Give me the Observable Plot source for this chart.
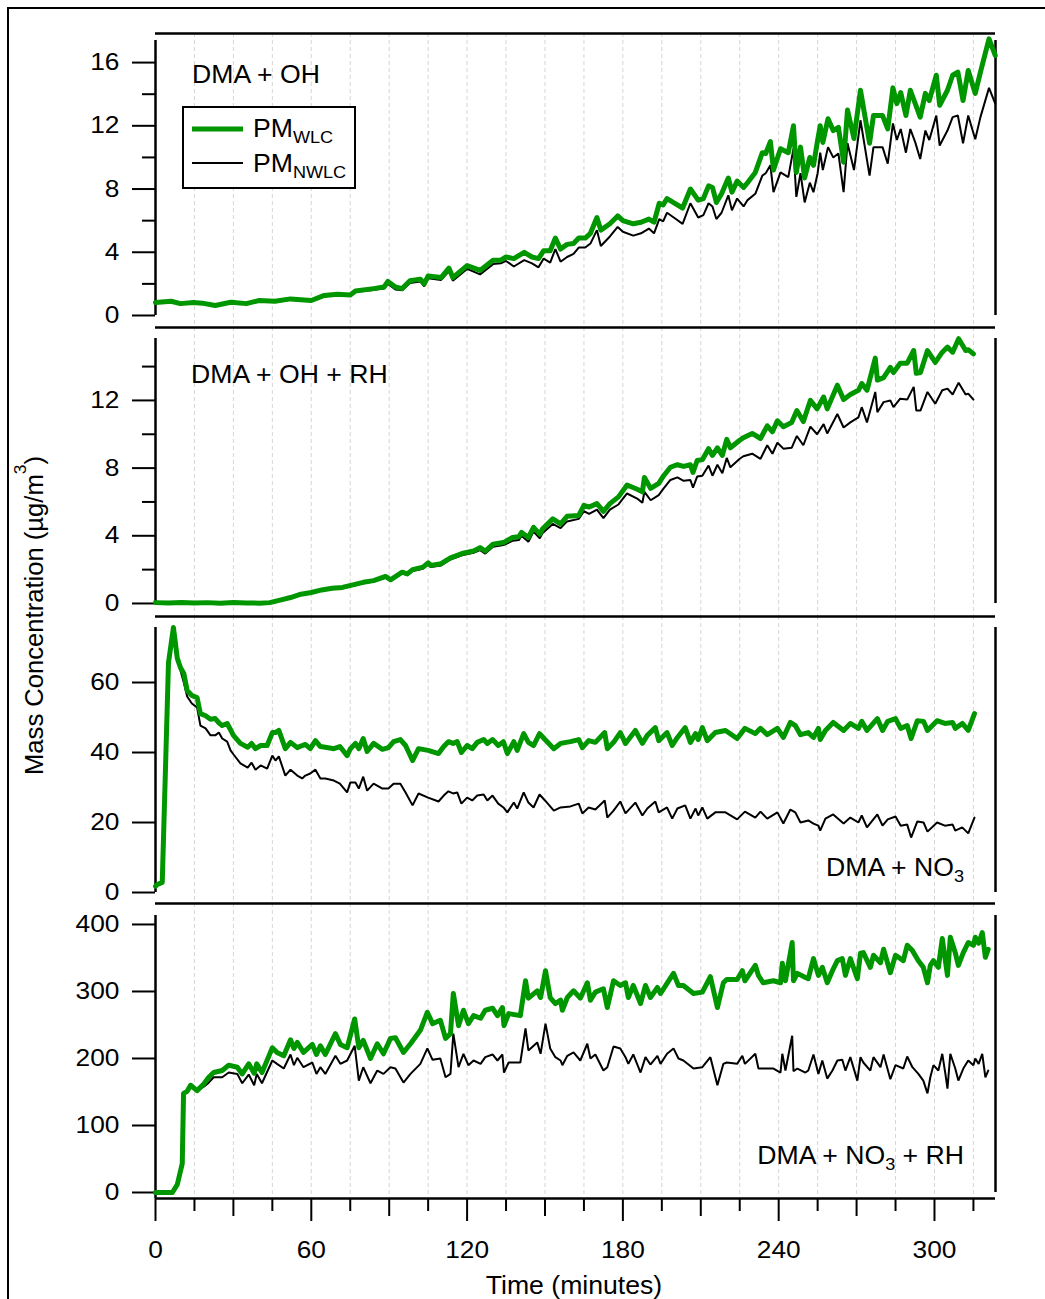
<!DOCTYPE html>
<html><head><meta charset="utf-8">
<script src="https://cdn.jsdelivr.net/npm/d3@7"></script>
<script src="https://cdn.jsdelivr.net/npm/@observablehq/plot@0.6"></script>
<style>
body{margin:0;background:#fff;}
#root{position:relative;width:1045px;height:1299px;overflow:hidden;background:#fff;font-family:"Liberation Sans",Arial,sans-serif;}
#root svg.panel{position:absolute;left:0;}
#frame{position:absolute;left:7px;top:7px;width:2000px;height:2000px;border:2px solid #000;}
#overlay{position:absolute;left:0;top:0;}
</style></head><body><div id="root"><div id="frame"></div></div>
<script>
// ---------------- DATA ----------------
// Panel 1: DMA + OH
const p1Time = [0, 6, 9.6, 14.6, 18, 23, 29, 35, 40, 46,
  52, 60, 65, 70, 75, 77, 84, 88, 89.5, 92.4,
  95, 98, 102, 103.5, 105, 110, 113, 114.5, 120, 125,
  130, 133, 135, 138, 142, 145, 147.5, 149.5, 152, 154,
  156, 158.5, 161, 163, 165.5, 167.5, 170, 171.5, 175, 178,
  180, 184, 187, 190, 192, 194, 195.5, 197, 200, 203,
  206, 209, 211, 213, 214.5, 216, 218, 220.6, 222, 224,
  226.5, 228, 231, 233.7, 235, 236.8, 238, 240.7, 243.7, 245.7,
  246.8, 248.4, 250, 252, 253.4, 255, 256, 257, 259, 261,
  263, 265, 266.5, 269, 271.5, 275, 276.5, 280, 282, 284,
  285.5, 287, 289, 290.7, 292.6, 294.5, 296.5, 298, 300.7, 302,
  305, 307, 309, 311, 313, 315.7, 317.7, 321, 323.4];
const p1WLC = [0.82, 0.9, 0.75, 0.82, 0.78, 0.63, 0.84, 0.75, 0.95, 0.9,
  1.05, 0.95, 1.27, 1.35, 1.3, 1.55, 1.7, 1.8, 2.15, 1.8,
  1.7, 2.2, 2.3, 2.0, 2.5, 2.4, 3.0, 2.4, 3.16, 2.85,
  3.5, 3.5, 3.7, 3.6, 4.0, 3.7, 3.6, 4.1, 4.1, 4.9,
  4.2, 4.5, 4.55, 4.9, 4.9, 5.2, 6.2, 5.4, 5.8, 6.3,
  6.0, 5.8, 5.9, 6.1, 5.9, 7.1, 7.0, 7.4, 7.1, 6.8,
  8.0, 7.3, 7.4, 8.2, 8.1, 7.15, 7.7, 8.7, 7.8, 8.5,
  8.1, 8.4, 9.05, 10.3, 10.25, 11.0, 9.2, 10.55, 10.3, 12.0,
  9.05, 10.65, 8.7, 10.0, 9.5, 11.1, 12.0, 10.95, 12.45, 11.7,
  11.9, 9.7, 13.0, 11.2, 14.25, 10.9, 12.65, 12.65, 11.8, 14.4,
  13.4, 14.1, 12.65, 14.25, 13.4, 12.55, 14.05, 13.6, 15.2, 13.3,
  14.25, 15.2, 15.4, 13.6, 15.5, 14.05, 15.4, 17.5, 16.45];
const p1NWLC = [0.8, 0.86, 0.72, 0.8, 0.75, 0.6, 0.8, 0.72, 0.9, 0.85,
  1.0, 0.92, 1.2, 1.3, 1.25, 1.5, 1.62, 1.7, 2.0, 1.65,
  1.6, 2.05, 2.15, 1.85, 2.35, 2.25, 2.8, 2.2, 2.95, 2.6,
  3.25, 3.3, 3.45, 3.1, 3.5, 3.3, 3.05, 3.6, 3.35, 4.2,
  3.4, 3.7, 3.9, 4.3, 4.3, 4.55, 5.4, 4.4, 5.0, 5.6,
  5.3, 5.05, 5.2, 5.5, 5.2, 6.1, 5.95, 6.5, 6.15, 5.8,
  7.1, 6.2, 6.35, 7.1, 6.9, 6.1, 6.5, 7.6, 6.65, 7.4,
  6.9, 7.3, 7.7, 8.85, 9.0, 9.5, 7.8, 9.05, 8.75, 10.55,
  7.5, 9.0, 7.15, 8.4, 7.8, 9.0, 10.3, 9.2, 10.65, 10.0,
  10.25, 7.8, 10.9, 9.2, 12.35, 8.85, 10.65, 10.65, 9.6, 12.15,
  11.1, 11.8, 10.3, 11.8, 10.95, 9.9, 11.7, 11.1, 12.65, 10.75,
  11.7, 12.55, 12.65, 10.9, 12.65, 11.15, 12.55, 14.4, 13.4];

// Panel 2: DMA + OH + RH
const p2Time = [0, 5, 10, 15, 20, 25, 30, 35, 40, 44,
  48, 52, 56, 60, 64, 68, 72, 76, 80, 84,
  88.6, 90.5, 95, 97, 99, 103, 105, 106, 110, 113.6,
  118, 122.5, 125, 127, 130, 134, 137.5, 140, 141, 143.6,
  145.6, 148, 149, 153, 156, 158.5, 163, 165, 167, 170,
  172.5, 175, 178.3, 181.6, 185.5, 187.5, 188.3, 190.7, 193.8, 195.7,
  198.3, 201, 203.4, 206, 207, 208.6, 210.6, 213, 214.5, 216.4,
  218.3, 220, 221.4, 225, 226.4, 229.8, 233, 235.6, 237.6, 239.5,
  241.8, 245, 247, 249.5, 252.2, 254.8, 257.3, 258.7, 262.6, 265,
  267.6, 270.7, 272, 274, 277.2, 278, 280.4, 283, 284.2, 286.8,
  289.5, 292, 293, 294.6, 297.3, 300.3, 303, 305, 307, 309.3,
  312, 313, 315];
const p2WLC = [0.05, 0.03, 0.06, 0.03, 0.05, 0.02, 0.06, 0.03, 0.02, 0.05,
  0.2, 0.35, 0.55, 0.65, 0.8, 0.9, 0.95, 1.1, 1.25, 1.35,
  1.6, 1.4, 1.85, 1.75, 2.0, 2.15, 2.4, 2.25, 2.35, 2.7,
  2.95, 3.1, 3.3, 3.1, 3.5, 3.6, 3.9, 3.95, 4.2, 3.9,
  4.5, 4.1, 4.4, 5.0, 4.7, 5.15, 5.2, 5.8, 5.7, 5.9,
  5.45, 5.9, 6.3, 7.0, 6.75, 6.6, 7.45, 6.8, 7.1, 7.55,
  8.05, 8.2, 8.1, 8.2, 7.75, 8.45, 8.5, 9.15, 8.75, 9.2,
  8.75, 9.7, 9.2, 9.65, 9.8, 10.05, 9.75, 10.5, 10.15, 10.8,
  10.45, 10.7, 11.4, 10.75, 12.0, 11.5, 12.2, 11.5, 12.9, 12.05,
  12.35, 12.6, 13.0, 12.6, 14.5, 13.2, 13.35, 13.95, 13.65, 14.2,
  14.2, 14.95, 13.6, 13.65, 14.95, 14.25, 14.85, 15.15, 14.85, 15.65,
  14.95, 15.0, 14.75];
const p2NWLC = [0.05, 0.03, 0.06, 0.03, 0.05, 0.02, 0.06, 0.03, 0.02, 0.05,
  0.2, 0.33, 0.52, 0.62, 0.76, 0.86, 0.9, 1.05, 1.2, 1.3,
  1.52, 1.33, 1.78, 1.68, 1.92, 2.05, 2.3, 2.15, 2.25, 2.6,
  2.85, 3.0, 3.15, 2.95, 3.35, 3.45, 3.7, 3.75, 4.0, 3.65,
  4.25, 3.85, 4.15, 4.7, 4.45, 4.85, 5.0, 5.45, 5.3, 5.55,
  5.05, 5.55, 5.85, 6.5, 6.2, 5.95, 6.6, 6.1, 6.4, 6.8,
  7.3, 7.45, 7.25, 7.3, 6.85, 7.5, 7.55, 8.15, 7.55, 8.2,
  7.7, 8.6, 8.05, 8.55, 8.7, 8.85, 8.55, 9.35, 8.85, 9.5,
  9.15, 9.2, 9.9, 9.35, 10.45, 10.0, 10.6, 10.05, 11.2, 10.4,
  10.7, 11.0, 11.6, 10.7, 12.5, 11.3, 11.9, 12.0, 11.6, 12.1,
  12.05, 12.8, 11.4, 11.4, 12.5, 11.8, 12.6, 12.7, 12.35, 13.05,
  12.35, 12.4, 12.05];

// Panel 3: DMA + NO3
const p3Time = [0, 0.7, 2.6, 5, 6.9, 8.4, 9.6, 10.9, 12.2, 14,
  16, 17.3, 19.3, 21.2, 23, 24.4, 25.7, 27.6, 28.9, 30,
  32.7, 35.5, 37, 38.5, 40.5, 43, 45, 46.2, 47.5, 50,
  52, 54.6, 56.5, 57.7, 59.6, 61.6, 63.5, 65.4, 68.7, 71,
  73.8, 75, 77, 78.3, 80, 81.5, 84, 87.4, 89.7, 91.7,
  94.3, 96.3, 99, 101.3, 105, 109, 111, 112.8, 114.6, 116.2,
  117.8, 120, 122, 123.9, 126.4, 127.8, 129.8, 132, 134, 135.5,
  138, 139.3, 141.8, 143.6, 145.6, 147.9, 150, 153.4, 156, 159.8,
  163, 164.4, 166.8, 169.4, 173, 174, 176.4, 179, 181, 184.8,
  187.5, 189.4, 192.5, 193.8, 197, 199, 201, 204, 206, 208,
  209, 210.6, 212.5, 215.6, 219.5, 224, 227, 231, 233, 235.6,
  239.5, 241.8, 244.5, 246.4, 248.4, 251.4, 253.4, 255.3, 256, 258,
  261, 265, 267.6, 270.7, 272, 274, 278, 280, 282, 285,
  287, 289.5, 291, 293.4, 295.8, 297.3, 301, 304, 307, 308,
  310.7, 313, 315.4];
const p3WLC = [1.8, 2.3, 2.9, 65.7, 75.7, 66.9, 64.3, 62.6, 57.7, 56.3,
  55.7, 51.1, 50.5, 49.5, 49.7, 48.5, 47.7, 48.3, 46.5, 44.9,
  42.6, 41.5, 42.6, 41.1, 42, 42, 45.7, 45.7, 46.3, 41.1,
  42.9, 41.4, 42, 42.3, 41.1, 43.4, 41.7, 41.5, 41.1, 41.7,
  39.1, 41, 42.6, 41.1, 44, 40.3, 42.6, 40.9, 41.4, 43.1,
  43.7, 42, 37.7, 41.1, 40.6, 39.7, 41.7, 43.1, 42.6, 43.1,
  40, 42, 41.1, 42.9, 43.7, 42.6, 43.7, 42, 43.1, 39.7,
  43.1, 40.6, 45.4, 42.9, 42, 45.4, 43.7, 41.1, 42.6, 43.1,
  43.7, 41.4, 43.4, 42.9, 45.7, 41.1, 42.9, 45.7, 42.6, 46.3,
  42.6, 44.9, 47.1, 43.4, 45.7, 42, 44.3, 47.1, 42.9, 45.4,
  43.7, 47.1, 43.4, 45.7, 46.3, 44, 46.9, 45.4, 46.9, 45.1,
  46.9, 44.3, 48.6, 47.7, 45.1, 45.7, 44.3, 46.9, 43.7, 46.3,
  48.6, 46.3, 48.3, 46.9, 48.9, 46.3, 49.7, 46.3, 48.9, 49.7,
  46.9, 47.7, 44, 49.1, 48.9, 46.3, 49.1, 48.3, 48.6, 46.9,
  48.3, 46.3, 51.1];
const p3NWLC = [1.8, 2.3, 2.9, 65.7, 75.7, 66.9, 63.5, 60, 56, 54,
  52.9, 47.7, 46.9, 44.9, 44.9, 45.7, 44, 43.1, 40.6, 39.5,
  36.9, 35.7, 37.1, 35.1, 36.3, 35.4, 39.1, 37.7, 38.9, 33.4,
  35.1, 33.4, 32.6, 33.4, 34, 35.1, 32.6, 32.6, 32, 31.1,
  28.6, 31.4, 31.4, 29.7, 33.1, 29.1, 31.1, 29.7, 29.7, 31.1,
  31.1, 28.6, 24.9, 28.3, 27.1, 26, 27.7, 28.9, 28.3, 28.6,
  25.4, 27.1, 26.3, 27.7, 28, 26.3, 27.7, 25.4, 24.3, 22.9,
  25.7, 24, 28.6, 25.7, 24.3, 28, 26.3, 23.4, 24.3, 24.6,
  25.4, 22.6, 24.3, 23.7, 26.3, 21.4, 23.4, 26, 22.6, 25.7,
  22, 24, 26, 22.9, 24.3, 21.1, 24, 24.9, 21.1, 24,
  22, 24.3, 21.1, 22.9, 22.9, 20.9, 23.1, 21.4, 23.1, 21.1,
  22.9, 19.7, 23.7, 22.9, 20, 20.6, 19.7, 19.1, 17.7, 21.1,
  22.3, 19.7, 21.4, 20, 22, 18.6, 22.3, 19.1, 20.9, 21.7,
  19.1, 19.4, 15.7, 20.3, 20, 17.4, 20, 19.1, 19.4, 17.7,
  18.6, 16.9, 21.4];

// Panel 4: DMA + NO3 + RH
const p4Time = [0, 6.5, 8.4, 10.3, 10.8, 12.2, 13.5, 16, 18.6, 20.5,
  22.4, 25.7, 28.2, 31.5, 33.4, 35.9, 38, 39, 41, 42.4,
  45, 46.8, 49.4, 52, 53.3, 54.6, 57, 60.4, 62, 63.5,
  65.4, 69.3, 71.2, 73.8, 76.7, 78.3, 80, 82.8, 85.4, 87.8,
  90.5, 92.4, 95.5, 98.2, 102, 104.7, 106.7, 109.7, 111.7, 113.6,
  114.7, 116.7, 118.6, 120.5, 122.5, 125.2, 127, 129.8, 131.7, 133.6,
  134.2, 136, 140.5, 142.5, 143.6, 147, 148.3, 150.2, 152, 154,
  156, 156.7, 158.6, 161, 163.6, 166.3, 167.5, 169.4, 172.5, 174,
  176.4, 179, 181, 182.1, 184, 186.8, 188.7, 190.6, 193.3, 194.5,
  197, 199.5, 201.4, 203.3, 207.2, 210.6, 213.7, 216.4, 218.7, 220,
  224, 226, 227, 231, 232.2, 234, 238, 240.7, 241.4, 242.6,
  245.2, 245.7, 247.2, 250.3, 251.4, 253.4, 255.3, 256.8, 258.7, 260.7,
  262.6, 264.5, 265.7, 267.6, 270.3, 271.5, 272.6, 275.3, 276.5, 279.2,
  280.4, 283, 285, 288, 289.5, 291.5, 293.8, 295.7, 297.3, 298.4,
  299.6, 301.5, 303, 304.2, 305, 306.1, 308, 309.2, 311.1, 313,
  315, 315.7, 317, 318.4, 319.6, 320.7];
const p4WLC = [0, 0, 12, 43, 148, 151, 160, 152, 162, 172,
  179, 182, 190, 187, 177, 192, 178, 192, 179, 192,
  216, 209, 204, 228, 215, 224, 209, 221, 206, 219,
  206, 237, 221, 216, 259, 216, 227, 200, 222, 207,
  230, 231, 209, 222, 242, 269, 252, 257, 230, 237,
  297, 249, 272, 252, 264, 260, 272, 275, 264, 276,
  249, 267, 264, 316, 290, 301, 291, 331, 291, 282,
  287, 272, 291, 301, 290, 313, 287, 299, 304, 276,
  316, 309, 313, 291, 309, 282, 309, 291, 306, 297,
  312, 327, 309, 309, 297, 299, 322, 276, 313, 318,
  318, 331, 316, 339, 324, 313, 316, 313, 342, 316,
  373, 316, 327, 321, 319, 349, 324, 336, 313, 331,
  346, 349, 324, 349, 319, 357, 358, 336, 354, 343,
  363, 328, 354, 346, 369, 361, 346, 336, 313, 339,
  346, 336, 379, 346, 324, 381, 358, 339, 358, 373,
  369, 381, 372, 388, 351, 363];
const p4NWLC = [0, 0, 12, 43, 148, 151, 160, 152, 158, 164,
  172, 172, 179, 177, 163, 176, 160, 177, 163, 175,
  197, 192, 185, 206, 190, 201, 187, 194, 177, 187,
  177, 204, 192, 197, 219, 167, 187, 163, 182, 177,
  187, 185, 164, 177, 192, 215, 198, 200, 172, 177,
  237, 187, 207, 190, 197, 192, 202, 206, 197, 206,
  179, 194, 194, 245, 212, 224, 207, 252, 215, 202,
  197, 190, 204, 209, 197, 222, 200, 206, 182, 187,
  218, 215, 202, 192, 206, 179, 202, 191, 204, 192,
  207, 215, 200, 197, 185, 187, 202, 160, 192, 194,
  192, 204, 192, 207, 185, 185, 185, 179, 207, 182,
  234, 181, 185, 179, 182, 206, 177, 197, 170, 182,
  197, 198, 182, 202, 167, 202, 194, 182, 202, 187,
  206, 169, 190, 185, 203, 187, 177, 167, 148, 172,
  190, 182, 207, 177, 155, 207, 185, 167, 185, 197,
  190, 200, 192, 207, 172, 182];

const panelNames = ["DMA + OH", "DMA + OH + RH", "DMA + NO3", "DMA + NO3 + RH"];
const seriesNames = ["PM WLC", "PM NWLC"];
const xTicksMajor = [0, 60, 120, 180, 240, 300];
const xTicksMid = [30, 90, 150, 210, 270];
const xTicksMinor = [15, 45, 75, 105, 135, 165, 195, 225, 255, 285, 315];
const xGrid = [15, 30, 45, 60, 75, 90, 105, 120, 135, 150, 165, 180, 195, 210, 225, 240, 255, 270, 285, 300, 315];
const p1Ticks = [0, 4, 8, 12, 16], p1Minor = [2, 6, 10, 14];
const p2Ticks = [0, 4, 8, 12], p2Minor = [2, 6, 10, 14];
const p3Ticks = [0, 20, 40, 60];
const p4Ticks = [0, 100, 200, 300, 400];

// ---------------- DRAW ----------------
const W = 1045;
const GREEN = "#009600";
const FONT = '"Liberation Sans", Arial, sans-serif';
const xDomain = [0, 323.5];
const TICK_STRETCH = 1.12, LABEL_STRETCH = 1.065;

function rows(T, V) {
  if (T.length !== V.length) throw new Error("length mismatch " + T.length + " vs " + V.length);
  return T.map((t, i) => ({t, v: V[i]}));
}

// stretch a text horizontally about its own anchor point (Plot positions text via transform)
function stretchText(el, s) {
  const tr = el.getAttribute("transform") || "";
  el.setAttribute("transform", (tr + ` scale(${s},1)`).trim());
}

const panels = [
  {T: p1Time, g: p1WLC, k: p1NWLC, areaTop: 33, areaBottom: 327, domain: [-0.76, 17.84], axisTop: 17.39, ticks: p1Ticks, minor: p1Minor},
  {T: p2Time, g: p2WLC, k: p2NWLC, areaTop: 327, areaBottom: 616, domain: [-0.77, 16.31], axisTop: 15.66, ticks: p2Ticks, minor: p2Minor},
  {T: p3Time, g: p3WLC, k: p3NWLC, areaTop: 616, areaBottom: 903, domain: [-3.14, 78.86], axisTop: 75.7, ticks: p3Ticks, minor: []},
  {T: p4Time, g: p4WLC, k: p4NWLC, areaTop: 903, areaBottom: 1198, domain: [-8.96, 431.3], axisTop: 413.4, ticks: p4Ticks, minor: [], last: true}
];

const root = document.getElementById("root");

panels.forEach((p) => {
  const mt = 4;
  const mb = p.last ? (1299 - p.areaBottom) : 2;
  const H = (p.areaBottom - p.areaTop) + mt + mb;
  const marks = [
    Plot.gridX(xGrid, {stroke: "#d6d6d6", strokeOpacity: 1, strokeWidth: 1, strokeDasharray: "4,3"}),
    Plot.ruleY([p.domain[1]], {stroke: "black", strokeWidth: 2.5}),
    Plot.ruleX([0], {y1: p.last ? p.domain[0] : 0, y2: p.axisTop, stroke: "black", strokeWidth: 2.5}),
    Plot.ruleX([xDomain[1]], {y1: 0, y2: p.axisTop, stroke: "black", strokeWidth: 2.5}),
    Plot.axisY({ticks: p.ticks, tickSize: 23, tickPadding: 13, strokeWidth: 2, label: null, anchor: "left"}),
  ];
  if (p.minor.length) marks.push(Plot.axisY({ticks: p.minor, tickSize: 13, tickFormat: () => "", strokeWidth: 2, label: null, anchor: "left"}));
  if (p.last) {
    marks.push(
      Plot.ruleY([p.domain[0]], {stroke: "black", strokeWidth: 2.5}),
      Plot.axisX({ticks: xTicksMajor, tickSize: 23, tickPadding: 20, strokeWidth: 2, label: null, anchor: "bottom"}),
      Plot.axisX({ticks: xTicksMid, tickSize: 18, tickFormat: () => "", strokeWidth: 2, label: null, anchor: "bottom"}),
      Plot.axisX({ticks: xTicksMinor, tickSize: 13, tickFormat: () => "", strokeWidth: 2, label: null, anchor: "bottom"})
    );
  }
  marks.push(
    Plot.line(rows(p.T, p.k), {x: "t", y: "v", stroke: "black", strokeWidth: 2, strokeLinejoin: "miter"}),
    Plot.line(rows(p.T, p.g), {x: "t", y: "v", stroke: GREEN, strokeWidth: 5, strokeLinejoin: "round"})
  );
  const svg = Plot.plot({
    width: W, height: H,
    marginLeft: 155, marginRight: W - 995, marginTop: mt, marginBottom: mb,
    x: {domain: xDomain, axis: null},
    y: {domain: p.domain, axis: null},
    style: {background: "transparent", fontFamily: FONT, fontSize: "23.5px", color: "black", overflow: "visible"},
    marks
  });
  svg.classList.add("panel");
  svg.style.top = (p.areaTop - mt) + "px";
  root.appendChild(svg);
  svg.querySelectorAll("text").forEach((t) => { if ((t.textContent || "").trim()) stretchText(t, TICK_STRETCH); });
});

// ---------------- TEXT OVERLAY ----------------
const ov = d3.select(root).append("svg").attr("id", "overlay")
  .attr("width", W).attr("height", 1299)
  .style("font-family", FONT);

function textAt(parent, x, y, size, anchor, stretch) {
  return parent.append("text")
    .attr("transform", `translate(${x},${y}) scale(${stretch},1)`)
    .attr("font-size", size).attr("text-anchor", anchor);
}

// Legend
const lg = ov.append("g");
lg.append("rect").attr("x", 183).attr("y", 107).attr("width", 172).attr("height", 81)
  .attr("fill", "white").attr("stroke", "black").attr("stroke-width", 2);
lg.append("line").attr("x1", 192).attr("x2", 243).attr("y1", 129).attr("y2", 129)
  .attr("stroke", GREEN).attr("stroke-width", 5);
lg.append("line").attr("x1", 192).attr("x2", 243).attr("y1", 163).attr("y2", 163)
  .attr("stroke", "black").attr("stroke-width", 2);
[[seriesNames[0], 137], [seriesNames[1], 172]].forEach(([name, y]) => {
  const [main, sub] = name.split(" ");
  const t = textAt(lg, 253, y, 25, "start", LABEL_STRETCH);
  t.append("tspan").text(main);
  t.append("tspan").attr("dy", 6).attr("font-size", 17).text(sub);
});

// Panel labels
function label(txt, x, y, anchor) {
  const t = textAt(ov, x, y, 25, anchor, LABEL_STRETCH);
  const m = txt.match(/^(.*NO)3(.*)$/);
  if (m) {
    t.append("tspan").text(m[1]);
    t.append("tspan").attr("dy", 6).attr("font-size", 17).text("3");
    if (m[2]) t.append("tspan").attr("dy", -6).text(m[2]);
  } else t.text(txt);
}
label(panelNames[0], 192, 83, "start");
label(panelNames[1], 191, 383, "start");
label(panelNames[2], 964, 876, "end");
label(panelNames[3], 964, 1164, "end");

// Axis titles
textAt(ov, 574, 1294, 25, "middle", LABEL_STRETCH).text("Time (minutes)");
const yl = ov.append("text").attr("transform", "translate(43,775) rotate(-90) scale(1.025,1)")
  .attr("font-size", 25).attr("text-anchor", "start");
yl.append("tspan").text("Mass Concentration (\u00b5g/m");
yl.append("tspan").attr("dy", -17).attr("font-size", 17).text("3");
yl.append("tspan").attr("dy", 17).text(")");
</script></body></html>
